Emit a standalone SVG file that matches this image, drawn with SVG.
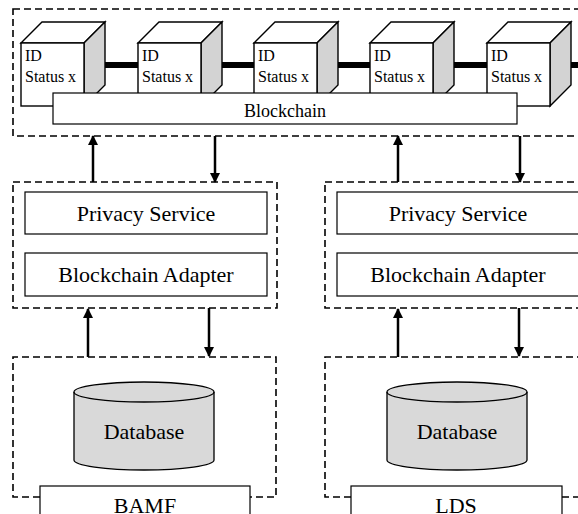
<svg xmlns="http://www.w3.org/2000/svg" width="578" height="514" viewBox="0 0 578 514">
<defs>
<style>
.dash{fill:none;stroke:#000;stroke-width:1.6;stroke-dasharray:7,4}
.box{fill:#fff;stroke:#000;stroke-width:1.2}
.front{fill:#fff;stroke:#000;stroke-width:1.4}
.side{fill:#d3d3d3;stroke:#000;stroke-width:1.4}
.db{fill:#d9d9d9;stroke:#000;stroke-width:1.3}
.bar{fill:#000}
text{font-family:'Liberation Serif','Times New Roman','DejaVu Serif',serif;fill:#000}
.arr{stroke:#000;stroke-width:2.5;fill:none}
</style>
<marker id="ah" viewBox="0 0 10 10" refX="9" refY="5" markerWidth="4" markerHeight="4" orient="auto" markerUnits="strokeWidth">
<path d="M0,0 L10,5 L0,10 Z" fill="#000"/>
</marker>
<g id="cube">
<path class="front" d="M0,0 L21,-21 L84,-21 L63,0 Z"/>
<path class="side" d="M63,0 L84,-21 L84,42 L63,63 Z"/>
<rect class="front" x="0" y="0" width="63" height="63"/>
<text font-family="Liberation Serif, serif" x="4" y="18" font-size="16">ID</text>
<text font-family="Liberation Serif, serif" x="4" y="39" font-size="16">Status x</text>
</g>
</defs>

<g id="blockchain-area">
<rect class="dash" x="13" y="9" width="580" height="127"/>
</g>

<g id="connectors-chain">
<rect class="bar" x="96" y="62" width="42" height="6"/>
<rect class="bar" x="212" y="62" width="42" height="6"/>
<rect class="bar" x="329" y="62" width="42" height="6"/>
<rect class="bar" x="445" y="62" width="42" height="6"/>
<rect class="bar" x="561" y="62" width="20" height="6"/>
</g>

<g id="block1"><use href="#cube" x="21" y="43"/></g>
<g id="block2"><use href="#cube" x="138" y="43"/></g>
<g id="block3"><use href="#cube" x="254" y="43"/></g>
<g id="block4"><use href="#cube" x="370" y="43"/></g>
<g id="block5"><use href="#cube" x="487" y="43"/></g>

<g id="blockchain">
<rect class="box" x="53" y="93" width="464" height="31"/>
<text font-family="Liberation Serif, serif" x="285" y="117" font-size="18" text-anchor="middle">Blockchain</text>
</g>

<g id="middle-left">
<rect class="dash" x="13" y="182" width="264" height="126"/>
<rect class="box" x="25" y="192" width="242" height="42"/>
<text font-family="Liberation Serif, serif" x="146" y="221" font-size="22" text-anchor="middle">Privacy Service</text>
<rect class="box" x="25" y="253" width="242" height="43"/>
<text font-family="Liberation Serif, serif" x="146" y="282" font-size="22" text-anchor="middle">Blockchain Adapter</text>
</g>

<g id="middle-right">
<rect class="dash" x="325" y="182" width="264" height="126"/>
<rect class="box" x="337" y="192" width="242" height="42"/>
<text font-family="Liberation Serif, serif" x="458" y="221" font-size="22" text-anchor="middle">Privacy Service</text>
<rect class="box" x="337" y="253" width="242" height="43"/>
<text font-family="Liberation Serif, serif" x="458" y="282" font-size="22" text-anchor="middle">Blockchain Adapter</text>
</g>

<g id="bamf">
<path class="dash" d="M40,497 L13,497 L13,357 L276,357 L276,497 L250,497"/>
<path class="db" d="M74,392 L74,460 A70,10 0 0 0 214,460 L214,392 A70,10 0 0 0 74,392 Z"/>
<path fill="none" stroke="#000" stroke-width="1.3" d="M74,392 A70,10 0 0 0 214,392"/>
<text font-family="Liberation Serif, serif" x="144" y="439" font-size="22" text-anchor="middle">Database</text>
<rect class="box" x="40" y="486" width="210" height="40"/>
<text font-family="Liberation Serif, serif" x="145" y="513" font-size="22" text-anchor="middle">BAMF</text>
</g>

<g id="lds">
<path class="dash" d="M351,497 L325,497 L325,357 L590,357 M562,497 L590,497"/>
<path class="db" d="M387,392 L387,460 A70,10 0 0 0 527,460 L527,392 A70,10 0 0 0 387,392 Z"/>
<path fill="none" stroke="#000" stroke-width="1.3" d="M387,392 A70,10 0 0 0 527,392"/>
<text font-family="Liberation Serif, serif" x="457" y="439" font-size="22" text-anchor="middle">Database</text>
<rect class="box" x="351" y="486" width="211" height="40"/>
<text font-family="Liberation Serif, serif" x="456" y="513" font-size="22" text-anchor="middle">LDS</text>
</g>

<g id="connectors">
<line class="arr" x1="93" y1="182" x2="93" y2="136" marker-end="url(#ah)"/>
<line class="arr" x1="215" y1="136" x2="215" y2="182" marker-end="url(#ah)"/>
<line class="arr" x1="398" y1="182" x2="398" y2="136" marker-end="url(#ah)"/>
<line class="arr" x1="520" y1="136" x2="520" y2="182" marker-end="url(#ah)"/>
<line class="arr" x1="88" y1="357" x2="88" y2="309" marker-end="url(#ah)"/>
<line class="arr" x1="209" y1="308" x2="209" y2="356" marker-end="url(#ah)"/>
<line class="arr" x1="398" y1="357" x2="398" y2="309" marker-end="url(#ah)"/>
<line class="arr" x1="519" y1="308" x2="519" y2="356" marker-end="url(#ah)"/>
</g>
</svg>
